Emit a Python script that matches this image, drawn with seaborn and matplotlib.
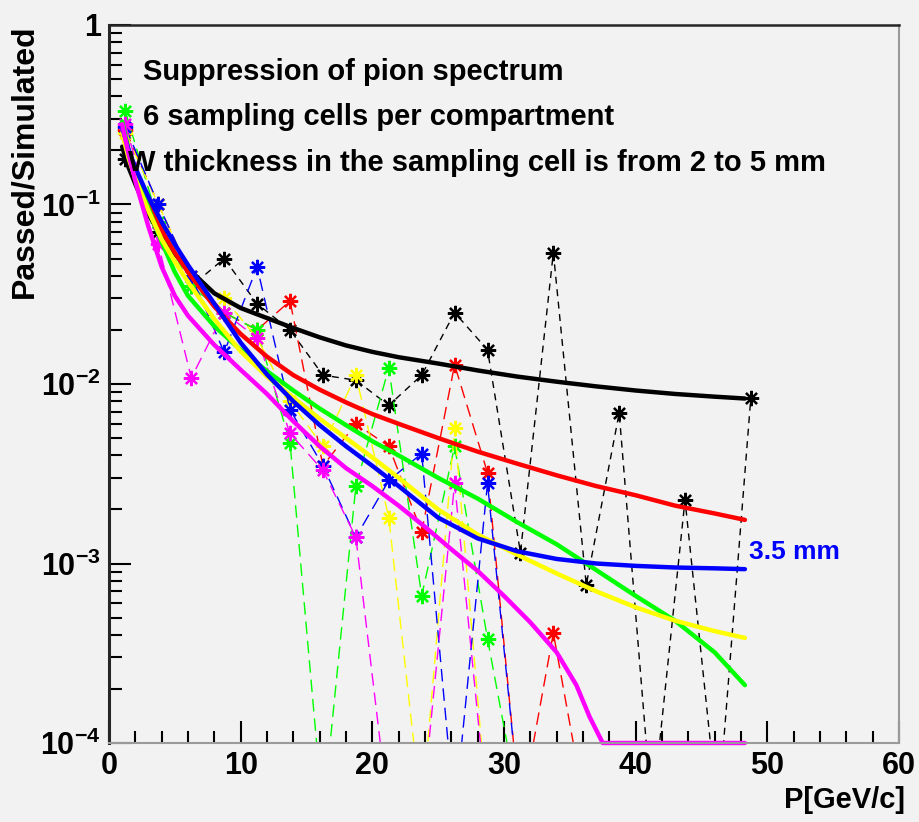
import numpy as np
import matplotlib
matplotlib.use('Agg')
import matplotlib.pyplot as plt
import matplotlib.ticker as mticker
import seaborn as sns

# momentum bins (GeV/c) of the simulated points
p_bins = [1.25, 3.75, 6.25, 8.75, 11.25, 13.75, 16.25, 18.75, 21.25, 23.75,
          26.25, 28.75, 31.25, 33.75, 36.25, 38.75, 41.25, 43.75, 46.25, 48.75]
Z = 4e-5  # empty bins, drawn below the axis minimum

black_pts = [0.18, 0.07, 0.035, 0.05, 0.028, 0.020, 0.0112, 0.0105, 0.0076, 0.0112,
             0.025, 0.0155, 0.00115, 0.054, 0.00076, 0.0069, Z, 0.00226, Z, 0.0084]
red_pts = [0.26, 0.10, 0.040, 0.025, 0.020, 0.029, 0.0035, 0.006, 0.0045, 0.0015,
           0.0128, 0.0032, Z, 0.00041, Z, Z, Z, Z, Z, Z]
green_pts = [0.33, 0.08, 0.035, 0.025, 0.020, 0.0047, Z, 0.0027, 0.0123, 0.00066,
             0.0045, 0.00038, Z, Z, Z, Z, Z, Z, Z, Z]
blue_pts = [0.27, 0.10, 0.040, 0.015, 0.045, 0.0072, 0.0035, 0.0014, 0.0029, 0.0041,
            Z, 0.0028, Z, Z, Z, Z, Z, Z, Z, Z]
yellow_pts = [0.25, 0.10, 0.040, 0.030, 0.018, 0.008, 0.0045, 0.0112, 0.0018, Z,
              0.0057, Z, Z, Z, Z, Z, Z, Z, Z, Z]
magenta_pts = [0.28, 0.06, 0.0108, 0.025, 0.018, 0.0053, 0.0033, 0.0014, Z, Z,
               0.0028, Z, Z, Z, Z, Z, Z, Z, Z, Z]

# fitted curves
fit_x = [1, 1.5, 2, 3, 4, 5, 6, 8, 10, 12, 14, 16, 18, 20, 22, 25, 28, 31, 34, 37, 40, 43, 46, 48.3]
fit_y_black = [0.21, 0.16, 0.13, 0.088, 0.066, 0.053, 0.044, 0.032, 0.0265, 0.0233, 0.0205, 0.0182,
               0.0164, 0.0151, 0.0141, 0.0130, 0.0119, 0.0110, 0.0103, 0.0097, 0.0092, 0.0088,
               0.0085, 0.0083]
fit_y_red = [0.25, 0.19, 0.15, 0.10, 0.072, 0.054, 0.042, 0.027, 0.019, 0.0142, 0.0112, 0.0093,
             0.0079, 0.0068, 0.0060, 0.0050, 0.0042, 0.0036, 0.0031, 0.0027, 0.0024, 0.0021,
             0.0019, 0.00175]
fit_y_green = [0.29, 0.20, 0.15, 0.095, 0.062, 0.042, 0.031, 0.021, 0.0155, 0.0118, 0.0092, 0.0073,
               0.0059, 0.0048, 0.0040, 0.0030, 0.0023, 0.0017, 0.00128, 0.00092, 0.00066,
               0.00048, 0.00032, 0.00021]
fit_y_yellow = [0.25, 0.18, 0.14, 0.092, 0.064, 0.048, 0.037, 0.023, 0.0152, 0.0110, 0.0084,
                0.0064, 0.0050, 0.0039, 0.0030, 0.0020, 0.00145, 0.00112, 0.00088, 0.00070,
                0.00057, 0.00048, 0.00042, 0.000385]
fit_y_blue = [0.27, 0.20, 0.16, 0.11, 0.08, 0.06, 0.046, 0.028, 0.0170, 0.0113, 0.0080, 0.0059,
              0.0045, 0.0035, 0.0027, 0.0018, 0.00138, 0.00117, 0.00106, 0.00100, 0.00097,
              0.00095, 0.00094, 0.00093]
fit_x_magenta = [1, 1.5, 2, 3, 4, 5, 6, 8, 10, 12, 14, 16, 18, 20, 22, 24, 26, 28, 30, 32, 34,
                 35.5, 36.5, 37.5, 48.3]
fit_y_magenta = [0.28, 0.19, 0.135, 0.075, 0.045, 0.031, 0.024, 0.0165, 0.012, 0.0088, 0.0062,
                 0.0045, 0.0034, 0.0027, 0.0021, 0.0016, 0.0012, 0.00091, 0.00066, 0.00047,
                 0.00032, 0.00021, 0.00014, 0.0001, 0.0001]

series = [
    ('black', black_pts, fit_x, fit_y_black),
    ('red', red_pts, fit_x, fit_y_red),
    ('#00ff00', green_pts, fit_x, fit_y_green),
    ('yellow', yellow_pts, fit_x, fit_y_yellow),
    ('blue', blue_pts, fit_x, fit_y_blue),
    ('magenta', magenta_pts, fit_x_magenta, fit_y_magenta),
]

bg = '#f2f2f2'
sns.set_style('ticks', {'axes.facecolor': bg, 'figure.facecolor': bg})
plt.rcParams['font.family'] = ['Liberation Sans', 'DejaVu Sans']
plt.rcParams['font.weight'] = 'bold'
plt.rcParams['text.color'] = 'black'
plt.rcParams['mathtext.fontset'] = 'custom'
plt.rcParams['mathtext.rm'] = 'Liberation Sans:bold'
plt.rcParams['mathtext.it'] = 'Liberation Sans:bold'
plt.rcParams['mathtext.bf'] = 'Liberation Sans:bold'

fig = plt.figure(figsize=(9.19, 8.22), dpi=100)
ax = fig.add_axes([0.1186, 0.0961, 0.8596, 0.8735])
ax.set_yscale('log')

# thin dashed lines + star markers for the simulated points
for color, pts, fx, fy in series:
    ls = (0, (5, 4)) if color == 'black' else (0, (9, 5))
    sns.lineplot(x=p_bins, y=pts, ax=ax, color=color, lw=1.0, linestyle=ls,
                 marker=(8, 2, 0), markersize=11, markeredgewidth=1.6,
                 markeredgecolor=color, estimator=None, sort=False)

# fitted curves on top
for color, pts, fx, fy in series:
    sns.lineplot(x=fx, y=fy, ax=ax, color=color, lw=3.2, estimator=None,
                 sort=False, clip_on=(color != 'magenta'))

ax.set_xlim(0, 60)
ax.set_ylim(1e-4, 1)

ax.xaxis.set_major_locator(mticker.MultipleLocator(10))
ax.xaxis.set_minor_locator(mticker.MultipleLocator(2))
ax.set_yticks([1e-4, 1e-3, 1e-2, 1e-1, 1])
ax.set_yticklabels(['$10^{-4}$', '$10^{-3}$', '$10^{-2}$', '$10^{-1}$', '1'])
ax.yaxis.set_minor_locator(mticker.LogLocator(base=10, subs=np.arange(2, 10)))
ax.yaxis.set_minor_formatter(mticker.NullFormatter())

ax.tick_params(axis='both', which='both', direction='in', top=False, right=False,
               colors='black', width=1.5)
ax.tick_params(axis='both', which='major', length=16, labelsize=22, pad=6)
ax.tick_params(axis='both', which='minor', length=9)
for lab in ax.get_xticklabels() + ax.get_yticklabels():
    lab.set_fontweight('bold')

ax.spines['left'].set_linewidth(2.2)
ax.spines['top'].set_linewidth(1.8)
ax.spines['right'].set_color('#9a9a9a')
ax.spines['bottom'].set_color('#9a9a9a')
ax.spines['right'].set_linewidth(1.5)
ax.spines['bottom'].set_linewidth(1.5)
ax.set_xlabel('')
ax.set_ylabel('')

fig.text(0.985, 0.027, 'P[GeV/c]', ha='right', va='center', fontsize=21, fontweight='bold')
fig.text(0.027, 0.97, 'Passed/Simulated', ha='center', va='top', rotation=90,
         fontsize=23, fontweight='bold')

ax.text(0.043, 0.935, 'Suppression of pion spectrum', transform=ax.transAxes,
        fontsize=21, fontweight='bold', va='center')
ax.text(0.043, 0.872, '6 sampling cells per compartment', transform=ax.transAxes,
        fontsize=21, fontweight='bold', va='center')
ax.text(0.024, 0.808, 'W thickness in the sampling cell is from 2 to 5 mm',
        transform=ax.transAxes, fontsize=21, fontweight='bold', va='center')
ax.text(48.6, 1.0e-3, '3.5 mm', color='blue', fontsize=19, fontweight='bold',
        va='bottom', ha='left')

fig.savefig('out.png', dpi=100, facecolor=bg)
